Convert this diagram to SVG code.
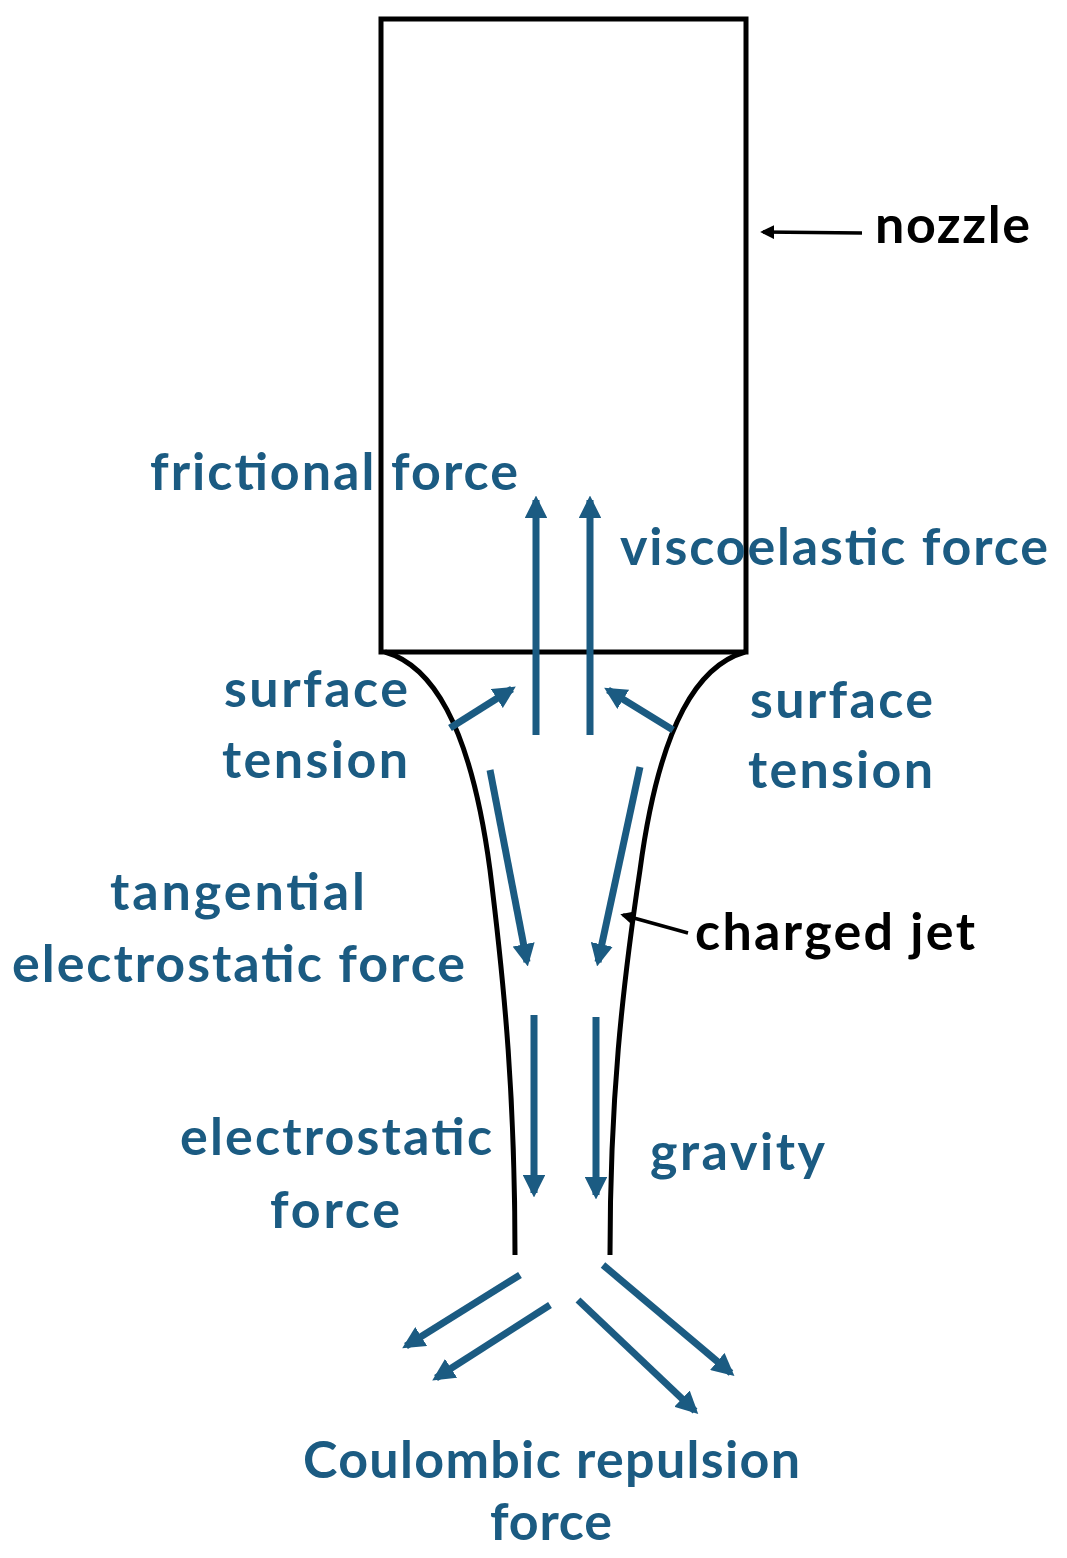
<svg xmlns="http://www.w3.org/2000/svg" width="1067" height="1558" viewBox="0 0 1067 1558">
<defs>
<marker id="bh" viewBox="0 0 10 10" refX="8" refY="5" markerWidth="3.2" markerHeight="3.2" orient="auto" markerUnits="strokeWidth"><path d="M0,0 L10,5 L0,10 z" fill="#1b5b82"/></marker>
<marker id="kh" viewBox="0 0 10 10" refX="8" refY="5" markerWidth="4" markerHeight="4" orient="auto" markerUnits="strokeWidth"><path d="M0,0 L10,5 L0,10 z" fill="#000"/></marker>
</defs>
<style>
.b{stroke:#1b5b82;stroke-width:7;fill:none;marker-end:url(#bh)}
.k{stroke:#000;stroke-width:3.5;fill:none;marker-end:url(#kh)}
text{font-family:Lato,"Liberation Sans",sans-serif;font-weight:bold;font-size:52px;fill:#1b5b82}
.bl{fill:#000}
</style>
<rect width="1067" height="1558" fill="#fff"/>
<g id="nozzle"><rect x="381" y="19" width="365" height="633" fill="none" stroke="#000" stroke-width="5"/></g>
<g id="jet" fill="none" stroke="#000" stroke-width="5">
<path d="M385,652 C430,665 470,720 490,870 C505,990 515,1100 515,1255"/>
<path d="M745,652 C700,665 660,720 640,870 C622,990 610,1100 610,1255"/>
</g>
<g id="connectors">
<line class="b" x1="536" y1="735" x2="536" y2="500"/>
<line class="b" x1="590" y1="735" x2="590" y2="500"/>
<line class="b" x1="450" y1="728" x2="512" y2="689"/>
<line class="b" x1="673" y1="730" x2="608" y2="690"/>
<line class="b" x1="490" y1="770" x2="527" y2="962"/>
<line class="b" x1="640" y1="767" x2="598" y2="962"/>
<line class="b" x1="534" y1="1015" x2="534" y2="1193"/>
<line class="b" x1="596" y1="1017" x2="596" y2="1195"/>
<line class="b" x1="520" y1="1275" x2="406" y2="1346"/>
<line class="b" x1="550" y1="1305" x2="436" y2="1378"/>
<line class="b" x1="578" y1="1300" x2="695" y2="1411"/>
<line class="b" x1="603" y1="1265" x2="731" y2="1373"/>
<line class="k" x1="862" y1="233" x2="763" y2="232"/>
<line class="k" x1="688" y1="933" x2="623" y2="915"/>
</g>
<g id="labels">
<text class="bl" x="875" y="243" textLength="155">nozzle</text>
<text x="150" y="490" textLength="368">frictional force</text>
<text x="620" y="565" textLength="428">viscoelastic force</text>
<text x="224" y="707" textLength="184">surface</text>
<text x="222" y="778" textLength="186">tension</text>
<text x="750" y="718" textLength="183">surface</text>
<text x="748" y="788" textLength="185">tension</text>
<text x="110" y="910" textLength="255">tangential</text>
<text x="12" y="982" textLength="453">electrostatic force</text>
<text class="bl" x="695" y="950" textLength="280">charged jet</text>
<text x="180" y="1155" textLength="312">electrostatic</text>
<text x="270" y="1228" textLength="130">force</text>
<text x="650" y="1170" textLength="175">gravity</text>
<text x="303" y="1478" textLength="497">Coulombic repulsion</text>
<text x="490" y="1540" textLength="122">force</text>
</g>
</svg>
